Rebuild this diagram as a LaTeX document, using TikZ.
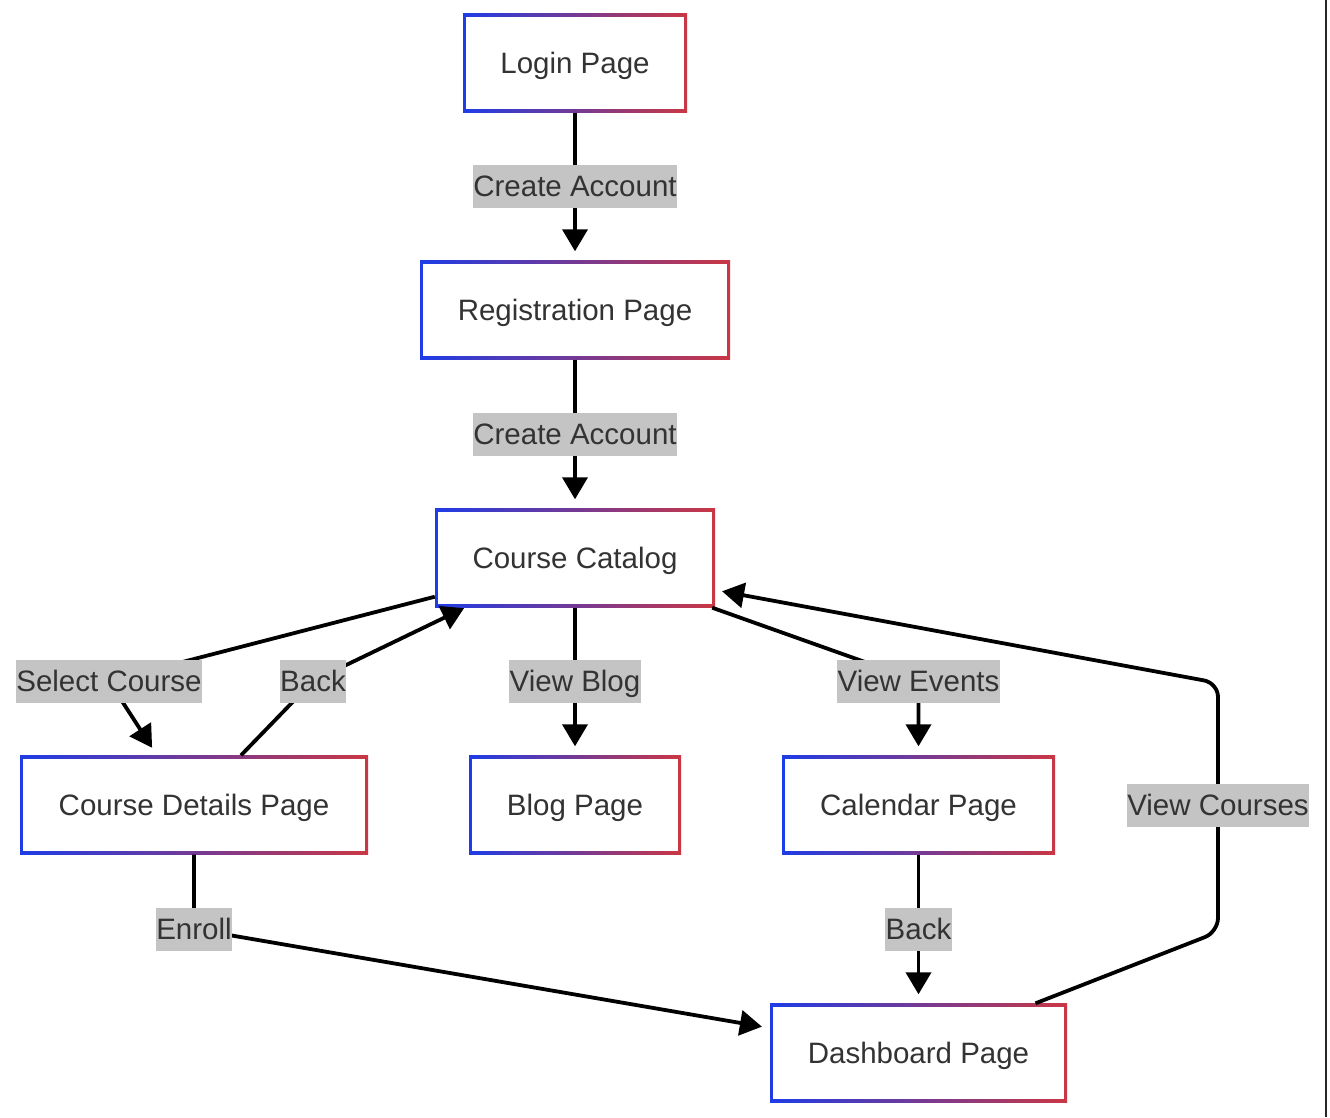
\documentclass[tikz,border=0pt]{standalone}
\usepackage{fontspec}
\setmainfont{Liberation Sans}
\usetikzlibrary{arrows.meta}
\definecolor{bl}{RGB}{30,60,230}
\definecolor{rd}{RGB}{202,55,68}
\definecolor{txt}{RGB}{51,51,51}
\definecolor{lblgray}{RGB}{196,196,196}
\tikzset{
  pagebox/.style={minimum height=99pt, inner sep=0pt, text=txt,
    text height=21.5pt, text depth=1.5pt,
    font=\fontsize{29.5}{35}\selectfont,
    shade, left color=bl, right color=rd,
    path picture={\fill[white] ([shift={(3.2pt,3.2pt)}]path picture bounding box.south west) rectangle ([shift={(-3.2pt,-3.2pt)}]path picture bounding box.north east);}},
  lbl/.style={fill=lblgray, text=txt, inner xsep=0.5pt, inner ysep=0pt,
    text height=21.5pt, text depth=1.5pt,
    minimum height=43pt, font=\fontsize{29.5}{35}\selectfont},
  arr/.style={line width=3.8pt, -{Triangle[length=22pt,width=25pt]}},
}
\begin{document}
\begin{tikzpicture}[x=1pt,y=-1pt]
\fill[white] (0,0) rectangle (1330,1117);
\useasboundingbox (0,0) rectangle (1330,1117);
\draw[line width=2pt, black!85] (1326,0) -- (1326,1117);

% page nodes
\node[pagebox, minimum width=224pt] (login) at (575,63) {Login Page};
\node[pagebox, minimum width=310pt] (reg) at (575,310) {Registration Page};
\node[pagebox, minimum width=280pt] (cat) at (575,558) {Course Catalog};
\node[pagebox, minimum width=348pt] (cd) at (194,805) {Course Details Page};
\node[pagebox, minimum width=212pt] (blog) at (575,805) {Blog Page};
\node[pagebox, minimum width=273pt] (cal) at (918.5,805) {Calendar Page};
\node[pagebox, minimum width=297pt] (dash) at (918.5,1053) {Dashboard Page};

% label positions
\coordinate (pCA1) at (575,186);
\coordinate (pCA2) at (575,434);
\coordinate (pSC) at (109,681);
\coordinate (pBL) at (313,681);
\coordinate (pVB) at (575,681);
\coordinate (pVE) at (918.5,681);
\coordinate (pVC) at (1218,805);
\coordinate (pEn) at (194,929);
\coordinate (pBR) at (918.5,929);

% connectors
\draw[arr, shorten >=9pt] (login.south) -- (pCA1) -- (reg.north);
\draw[arr, shorten >=9pt] (reg.south) -- (pCA2) -- (cat.north);
\draw[arr, shorten >=9pt] ([yshift=11pt]cat.south west) -- (pSC) -- ([xshift=-37pt]cd.north);
\draw[arr, shorten >=1pt] ([xshift=47pt]cd.north) -- (pBL) -- ([xshift=-110pt]cat.south);
\draw[arr, shorten >=9pt] (cat.south) -- (pVB) -- (blog.north);
\draw[arr, shorten >=9pt] ([xshift=-3pt]cat.south east) -- (pVE) -- (cal.north);
\draw[arr, shorten >=7pt, rounded corners=14pt] ([xshift=117pt]dash.north) -- (1218,932) -- (pVC) -- (1218,683) -- ([yshift=-32pt]cat.east);
\draw[arr, shorten >=8pt] (cd.south) -- (pEn) -- ([yshift=25pt]dash.west);
\draw[arr, shorten >=9pt] (cal.south) -- (pBR) -- (dash.north);

% labels
\node[lbl] (lCA1) at (pCA1) {Create Account};
\node[lbl] (lCA2) at (pCA2) {Create Account};
\node[lbl] (lSC) at (pSC) {Select Course};
\node[lbl] (lBL) at (pBL) {Back};
\node[lbl] (lVB) at (pVB) {View Blog};
\node[lbl] (lVE) at (pVE) {View Events};
\node[lbl] (lVC) at (pVC) {View Courses};
\node[lbl] (lEn) at (pEn) {Enroll};
\node[lbl] (lBR) at (pBR) {Back};
\end{tikzpicture}
\end{document}
